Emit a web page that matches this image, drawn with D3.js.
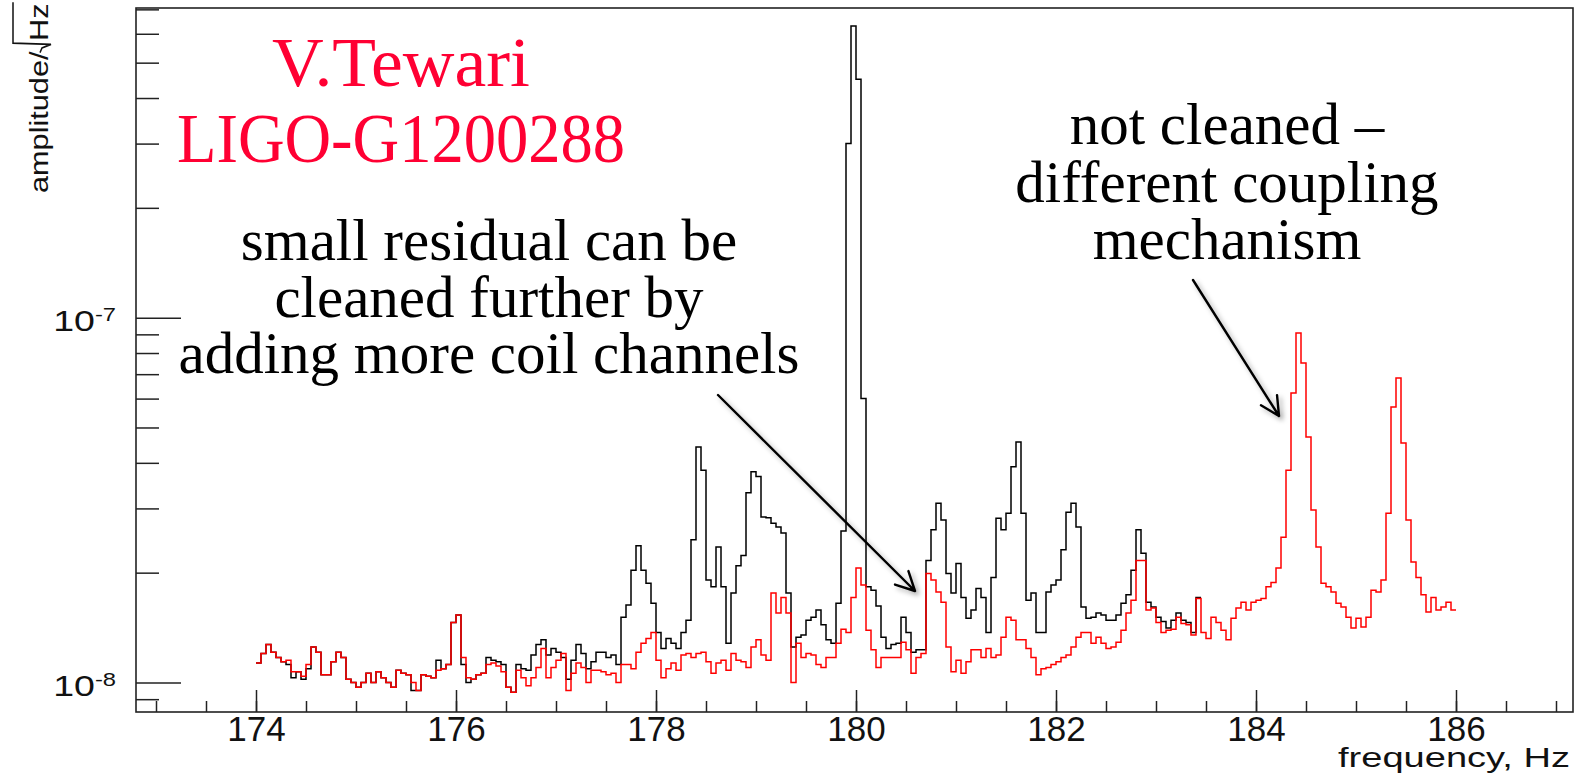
<!DOCTYPE html>
<html>
<head>
<meta charset="utf-8">
<script src="https://cdn.jsdelivr.net/npm/d3@7"></script>
<style>
  html, body { margin: 0; padding: 0; background: #ffffff; overflow: hidden; }
  svg { display: block; }
</style>
</head>
<body>
<svg id="chart" width="1579" height="776"></svg>
<script>
// Spectrum bins: first bin edge and width, in Hz
const binStart = 174;
const binWidth = 0.05;
// amplitudes are listed in units of 1e-8 / sqrt(Hz)
const ampUnit = 1e-8;

// spectrum after cleaning with the coil channels (red)
const cleanedAmp = [
  1.13, 1.20, 1.27, 1.21, 1.17, 1.14, 1.15, 1.07, 1.07, 1.04,
  1.12, 1.25, 1.21, 1.05, 1.05, 1.14, 1.21, 1.17, 1.02, 1.00,
  0.97, 1.00, 1.06, 1.00, 1.07, 1.03, 1.00, 0.97, 1.08, 1.06,
  1.05, 1.00, 0.95, 1.05, 1.04, 1.03, 1.08, 1.09, 1.12, 1.46,
  1.53, 1.17, 1.03, 1.02, 1.05, 1.06, 1.12, 1.13, 1.11, 1.07,
  0.97, 0.94, 1.08, 1.03, 0.98, 1.03, 1.10, 1.24, 1.03, 1.10,
  1.15, 1.20, 0.95, 1.06, 1.13, 1.10, 1.00, 1.08, 1.08, 1.07,
  1.05, 1.06, 1.00, 1.12, 1.12, 1.09, 1.21, 1.28, 1.32, 1.37,
  1.15, 1.03, 1.09, 1.13, 1.08, 1.19, 1.20, 1.17, 1.20, 1.21,
  1.14, 1.06, 1.13, 1.15, 1.08, 1.20, 1.15, 1.14, 1.10, 1.25,
  1.31, 1.19, 1.15, 1.76, 1.55, 1.71, 1.55, 1.00, 1.28, 1.17,
  1.20, 1.19, 1.12, 1.10, 1.17, 1.17, 1.28, 1.40, 1.37, 1.71,
  2.06, 1.85, 1.39, 1.23, 1.10, 1.17, 1.17, 1.17, 1.17, 1.29,
  1.23, 1.06, 1.17, 1.20, 1.99, 1.91, 1.77, 1.66, 1.25, 1.07,
  1.15, 1.06, 1.14, 1.23, 1.23, 1.17, 1.24, 1.17, 1.19, 1.33,
  1.51, 1.48, 1.31, 1.31, 1.24, 1.17, 1.05, 1.09, 1.10, 1.12,
  1.14, 1.17, 1.19, 1.25, 1.33, 1.37, 1.37, 1.28, 1.33, 1.28,
  1.24, 1.25, 1.29, 1.39, 1.55, 1.68, 2.16, 2.16, 1.58, 1.60,
  1.46, 1.37, 1.39, 1.40, 1.51, 1.45, 1.44, 1.35, 1.70, 1.37,
  1.32, 1.51, 1.46, 1.39, 1.31, 1.50, 1.60, 1.66, 1.58, 1.66,
  1.68, 1.70, 1.83, 1.88, 2.06, 2.50, 3.82, 6.22, 9.08, 7.51,
  4.71, 2.97, 2.35, 1.87, 1.83, 1.77, 1.65, 1.61, 1.51, 1.41,
  1.50, 1.42, 1.51, 1.79, 1.77, 1.91, 2.91, 5.69, 6.83, 4.53,
  2.79, 2.14, 1.94, 1.74, 1.56, 1.71, 1.58, 1.61, 1.66, 1.58
];

// spectrum before cleaning (black)
const rawAmp = [
  1.13, 1.20, 1.27, 1.21, 1.17, 1.14, 1.12, 1.03, 1.07, 1.02,
  1.09, 1.25, 1.21, 1.05, 1.05, 1.14, 1.21, 1.17, 1.02, 1.00,
  0.97, 1.00, 1.06, 1.00, 1.07, 1.03, 1.00, 0.97, 1.08, 1.06,
  1.05, 0.95, 0.95, 1.05, 1.04, 1.03, 1.15, 1.09, 1.12, 1.46,
  1.53, 1.12, 1.00, 1.02, 1.05, 1.06, 1.17, 1.15, 1.14, 1.12,
  0.97, 0.94, 1.12, 1.09, 1.08, 1.19, 1.27, 1.31, 1.19, 1.24,
  1.21, 1.17, 1.02, 1.15, 1.27, 1.20, 1.09, 1.14, 1.21, 1.21,
  1.17, 1.19, 1.12, 1.51, 1.63, 2.03, 2.37, 2.03, 1.87, 1.65,
  1.37, 1.24, 1.32, 1.28, 1.24, 1.37, 1.48, 2.46, 4.42, 3.82,
  1.91, 1.83, 2.35, 1.83, 1.28, 1.76, 2.09, 2.23, 3.31, 3.78,
  3.67, 2.84, 2.83, 2.73, 2.67, 2.57, 1.76, 1.25, 1.33, 1.35,
  1.48, 1.51, 1.58, 1.44, 1.31, 1.28, 1.65, 2.60, 30.0, 63.0,
  45.0, 6.00, 1.83, 1.79, 1.62, 1.33, 1.24, 1.27, 1.28, 1.51,
  1.37, 1.21, 1.23, 1.23, 2.16, 2.62, 3.10, 2.79, 1.99, 1.76,
  2.12, 1.71, 1.50, 1.58, 1.81, 1.71, 1.37, 1.94, 2.82, 2.62,
  2.91, 3.90, 4.56, 2.91, 1.68, 1.76, 1.37, 1.37, 1.77, 1.85,
  1.91, 2.31, 2.93, 3.10, 2.67, 1.61, 1.50, 1.51, 1.55, 1.53,
  1.48, 1.48, 1.53, 1.65, 1.74, 2.03, 2.62, 2.26, 1.66, 1.61,
  1.51, 1.47, 1.41, 1.48, 1.55, 1.48, 1.46, 1.37, 1.71
];

// axis ticks and labels
const xLabelTicks = [174, 176, 178, 180, 182, 184, 186];
const xMinorTicks = d3.range(173, 187.01, 0.5);
const yDecadeTicks = [1e-8, 1e-7];
const yDecadeLabels = [["10", "-8"], ["10", "-7"]];
const yMinorTicks = [9e-9, 2e-8, 3e-8, 4e-8, 5e-8, 6e-8, 7e-8, 8e-8, 9e-8,
                     2e-7, 3e-7, 4e-7, 5e-7, 6e-7, 7e-7];

const xTitle = "frequency, Hz";
const yTitleMain = "amplitude/";
const yTitleUnit = "Hz";

const authorLines = ["V.Tewari", "LIGO-G1200288"];
const authorWidths = [258, 448];
const residualNote = ["small residual can be", "cleaned further by", "adding more coil channels"];
const couplingNote = ["not cleaned \u2013", "different coupling", "mechanism"];

// ---- layout ----
const frame = { left: 136, right: 1573, top: 8, bottom: 712 };
const svg = d3.select("#chart");
const sans = "'Liberation Sans', Arial, sans-serif";
const serif = "'Liberation Serif', 'Times New Roman', serif";

const x = d3.scaleLinear().domain([172.8, 187.17]).range([frame.left, frame.right]);
const y = d3.scaleLog().domain([8.3e-9, 7.06e-7]).range([frame.bottom, frame.top]);

const defs = svg.append("defs");
const shadow = defs.append("filter").attr("id", "arrowShadow")
  .attr("x", "-20%").attr("y", "-20%").attr("width", "140%").attr("height", "140%");
shadow.append("feDropShadow").attr("dx", 3).attr("dy", 3).attr("stdDeviation", 2.5)
  .attr("flood-color", "#000").attr("flood-opacity", 0.35);
defs.append("clipPath").attr("id", "plotClip").append("rect")
  .attr("x", frame.left).attr("y", frame.top)
  .attr("width", frame.right - frame.left).attr("height", frame.bottom - frame.top);

// ---- histograms (step lines) ----
function binsOf(values) {
  const pts = values.map((v, i) => ({ f: binStart + i * binWidth, a: v * ampUnit }));
  const last = values[values.length - 1];
  pts.push({ f: binStart + values.length * binWidth, a: last * ampUnit });
  return pts;
}
const stepLine = d3.line()
  .x(d => x(d.f))
  .y(d => y(d.a))
  .curve(d3.curveStepAfter);

const plot = svg.append("g").attr("clip-path", "url(#plotClip)");
plot.append("path").datum(binsOf(rawAmp))
  .attr("d", stepLine).attr("fill", "none")
  .attr("stroke", "#000000").attr("stroke-width", 1.5);
plot.append("path").datum(binsOf(cleanedAmp))
  .attr("d", stepLine).attr("fill", "none")
  .attr("stroke", "#ff0000").attr("stroke-width", 1.5);

// ---- axes ----
const axisColor = "#222";
const styleAxis = g => {
  g.select(".domain").remove();
  g.selectAll(".tick line").attr("stroke", axisColor).attr("stroke-width", 1.5);
};

svg.append("g").attr("transform", `translate(0,${frame.bottom})`)
  .call(d3.axisBottom(x).tickValues(xMinorTicks).tickSize(-11).tickFormat(""))
  .call(styleAxis);
svg.append("g").attr("transform", `translate(0,${frame.bottom})`)
  .call(d3.axisBottom(x).tickValues(xLabelTicks).tickSize(-22).tickPadding(4).tickFormat(d3.format("d")))
  .call(styleAxis)
  .call(g => g.selectAll(".tick text")
    .attr("font-family", sans)
    .attr("font-size", 35).attr("fill", "#111"));

svg.append("g").attr("transform", `translate(${frame.left},0)`)
  .call(d3.axisLeft(y).tickValues(yMinorTicks).tickSize(-23).tickFormat(""))
  .call(styleAxis);
const yMajor = svg.append("g").attr("transform", `translate(${frame.left},0)`)
  .call(d3.axisLeft(y).tickValues(yDecadeTicks).tickSize(-45).tickFormat(""))
  .call(styleAxis);
yMajor.selectAll(".tick").each(function(d, i) {
  const t = d3.select(this).append("text")
    .attr("x", -16).attr("y", 13)
    .attr("text-anchor", "end")
    .attr("font-family", sans)
    .attr("fill", "#111")
    .attr("transform", "scale(1.25,1)");
  t.append("tspan").attr("font-size", 30).text(yDecadeLabels[i][0]);
  t.append("tspan").attr("font-size", 19).attr("dy", -10).text(yDecadeLabels[i][1]);
});

// frame
svg.append("rect")
  .attr("x", frame.left).attr("y", frame.top)
  .attr("width", frame.right - frame.left).attr("height", frame.bottom - frame.top)
  .attr("fill", "none").attr("stroke", axisColor).attr("stroke-width", 1.6);

// axis titles
svg.append("text")
  .attr("x", 1338).attr("y", 767)
  .attr("font-family", sans)
  .attr("font-size", 27).attr("fill", "#111")
  .attr("textLength", 232).attr("lengthAdjust", "spacingAndGlyphs")
  .text(xTitle);

const yTitle = svg.append("g").attr("transform", "translate(48,193) rotate(-90) scale(1.18,1)");
const yMainText = yTitle.append("text")
  .attr("x", 0).attr("y", 0)
  .attr("font-family", sans)
  .attr("font-size", 26).attr("fill", "#111")
  .text(yTitleMain);
const mainLen = yMainText.node().getComputedTextLength();
const unitText = yTitle.append("text")
  .attr("x", mainLen + 9).attr("y", 0)
  .attr("font-family", sans)
  .attr("font-size", 26).attr("fill", "#111")
  .text(yTitleUnit);
const unitLen = unitText.node().getComputedTextLength();
// radical sign over the unit
yTitle.append("path")
  .attr("d", `M${mainLen - 1},-8 L${mainLen + 3},-6 L${mainLen + 6},3 L${mainLen + 7},-35 L${mainLen + 9 + unitLen + 1},-35`)
  .attr("fill", "none").attr("stroke", "#111").attr("stroke-width", 1.5);

// ---- annotations ----
svg.append("g").selectAll("text").data(authorLines).join("text")
  .attr("x", (d, i) => 401 - authorWidths[i] / 2).attr("y", (d, i) => 86 + i * 76)
  .attr("font-family", serif).attr("font-size", 69)
  .attr("textLength", (d, i) => authorWidths[i]).attr("lengthAdjust", "spacingAndGlyphs")
  .attr("fill", "#ff0033")
  .text(d => d);

svg.append("g").selectAll("text").data(residualNote).join("text")
  .attr("x", 489).attr("y", (d, i) => 260 + i * 56.5)
  .attr("text-anchor", "middle")
  .attr("font-family", serif).attr("font-size", 59)
  .attr("fill", "#000")
  .text(d => d);

svg.append("g").selectAll("text").data(couplingNote).join("text")
  .attr("x", 1227).attr("y", (d, i) => 144 + i * 57.5)
  .attr("text-anchor", "middle")
  .attr("font-family", serif).attr("font-size", 59)
  .attr("fill", "#000")
  .text(d => d);

// arrows pointing at the features
function arrow(x0, y0, x1, y1) {
  const ang = Math.atan2(y1 - y0, x1 - x0);
  const len = 21, spread = 0.47;
  const a1 = [x1 - len * Math.cos(ang - spread), y1 - len * Math.sin(ang - spread)];
  const a2 = [x1 - len * Math.cos(ang + spread), y1 - len * Math.sin(ang + spread)];
  const g = svg.append("g").attr("filter", "url(#arrowShadow)");
  g.append("path")
    .attr("d", `M${x0},${y0} L${x1},${y1} M${a1[0]},${a1[1]} L${x1},${y1} L${a2[0]},${a2[1]}`)
    .attr("fill", "none").attr("stroke", "#000").attr("stroke-width", 2.4)
    .attr("stroke-linecap", "round").attr("stroke-linejoin", "round");
}
arrow(718, 395, 915, 591);
arrow(1193, 280, 1279, 416);
</script>
</body>
</html>
